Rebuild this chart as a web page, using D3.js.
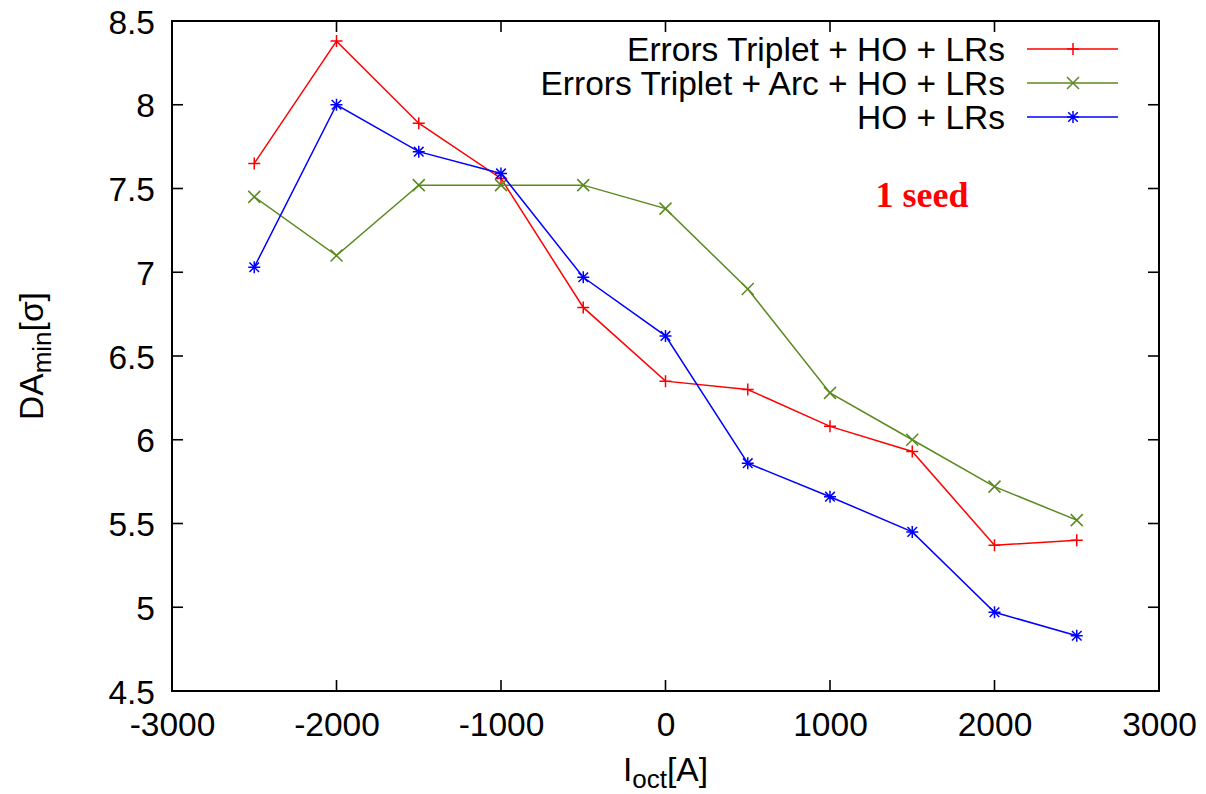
<!DOCTYPE html>
<html>
<head>
<meta charset="utf-8">
<script src="https://cdn.jsdelivr.net/npm/d3@7"></script>
<style>
  html, body { margin: 0; padding: 0; background: #fff; }
  svg { display: block; }
  text { font-family: "Liberation Sans", Arial, sans-serif; fill: #000; }
</style>
</head>
<body>
<svg id="chart" width="1206" height="794"></svg>
<script>
// ---- data ----
const xValues = [-2500, -2000, -1500, -1000, -500, 0, 500, 1000, 1500, 2000, 2500];
const redValues   = [7.65, 8.38, 7.89, 7.56, 6.79, 6.35, 6.30, 6.08, 5.93, 5.37, 5.40];
const greenValues = [7.45, 7.10, 7.52, 7.52, 7.52, 7.38, 6.90, 6.28, 6.00, 5.72, 5.52];
const blueValues  = [7.03, 8.00, 7.72, 7.59, 6.97, 6.62, 5.86, 5.66, 5.45, 4.97, 4.83];
const seriesNames = ["Errors Triplet + HO + LRs", "Errors Triplet + Arc + HO + LRs", "HO + LRs"];
const xTicks = [-3000, -2000, -1000, 0, 1000, 2000, 3000];
const yTicks = [4.5, 5, 5.5, 6, 6.5, 7, 7.5, 8, 8.5];

const series = [
  { name: seriesNames[0], values: redValues,   color: "#ff0000", marker: "plus" },
  { name: seriesNames[1], values: greenValues, color: "#5a8a1e", marker: "cross" },
  { name: seriesNames[2], values: blueValues,  color: "#0000ff", marker: "star" }
];

// ---- layout ----
const L = 172, R = 1159, T = 21, B = 691;
const FS = 33.5;
const svg = d3.select("#chart");
const x = d3.scaleLinear().domain([-3000, 3000]).range([L, R]);
const y = d3.scaleLinear().domain([4.5, 8.5]).range([B, T]);

const tickLen = 11;

function markerPath(type, s) {
  if (type === "plus") return `M${-s},0H${s}M0,${-s}V${s}`;
  if (type === "cross") return `M${-s},${-s}L${s},${s}M${-s},${s}L${s},${-s}`;
  const d = s * 0.8;
  return `M${-s},0H${s}M0,${-s}V${s}M${-d},${-d}L${d},${d}M${-d},${d}L${d},${-d}`;
}

const fmt = d => String(d); // plain hyphen-minus like the original

// ---- axes ----
const axisBottom = d3.axisBottom(x).tickValues(xTicks).tickSize(0).tickPadding(21).tickFormat(fmt);
const axisLeft = d3.axisLeft(y).tickValues(yTicks).tickSize(0).tickPadding(17).tickFormat(fmt);

const gx = svg.append("g").attr("transform", `translate(0,${B})`).call(axisBottom);
const gy = svg.append("g").attr("transform", `translate(${L},0)`).call(axisLeft);
[gx, gy].forEach(g => {
  g.select(".domain").remove();
  g.selectAll("text").style("font-size", FS + "px").style("font-family", '"Liberation Sans", Arial, sans-serif').attr("fill", "#000");
});
gx.selectAll("text").attr("dy", "0.71em");
gy.selectAll("text").attr("dy", "0.36em");

const tickG = svg.append("g").attr("stroke", "#000").attr("stroke-width", 1.6);
xTicks.slice(1, -1).forEach(v => {
  tickG.append("line").attr("x1", x(v)).attr("x2", x(v)).attr("y1", B).attr("y2", B - tickLen);
  tickG.append("line").attr("x1", x(v)).attr("x2", x(v)).attr("y1", T).attr("y2", T + tickLen);
});
yTicks.slice(1, -1).forEach(v => {
  tickG.append("line").attr("x1", L).attr("x2", L + tickLen).attr("y1", y(v)).attr("y2", y(v));
  tickG.append("line").attr("x1", R).attr("x2", R - tickLen).attr("y1", y(v)).attr("y2", y(v));
});

svg.append("rect").attr("x", L).attr("y", T).attr("width", R - L).attr("height", B - T)
  .attr("fill", "none").attr("stroke", "#000").attr("stroke-width", 2);

// ---- series ----
const line = d3.line().x(d => x(d[0])).y(d => y(d[1]));
series.forEach(s => {
  const pts = xValues.map((xv, i) => [xv, s.values[i]]);
  svg.append("path").datum(pts).attr("d", line)
    .attr("fill", "none").attr("stroke", s.color).attr("stroke-width", 1.5);
  svg.append("g").selectAll("path").data(pts).join("path")
    .attr("transform", d => `translate(${x(d[0])},${y(d[1])})`)
    .attr("d", markerPath(s.marker, 6))
    .attr("fill", "none").attr("stroke", s.color).attr("stroke-width", 1.5);
});

// ---- legend ----
const legRows = [49, 83, 117];
series.forEach((s, i) => {
  const ly = legRows[i];
  svg.append("text").attr("x", 1005).attr("y", ly).attr("dy", "0.36em")
    .attr("text-anchor", "end").style("font-size", FS + "px").text(s.name);
  svg.append("line").attr("x1", 1027).attr("x2", 1118).attr("y1", ly).attr("y2", ly)
    .attr("stroke", s.color).attr("stroke-width", 1.5);
  svg.append("path").attr("transform", `translate(1073,${ly})`)
    .attr("d", markerPath(s.marker, 6)).attr("fill", "none")
    .attr("stroke", s.color).attr("stroke-width", 1.5);
});

// ---- labels ----
const xl = svg.append("text").attr("x", (L + R) / 2).attr("y", 781).attr("text-anchor", "middle").style("font-size", FS + "px");
xl.append("tspan").text("I");
xl.append("tspan").attr("dy", 7).style("font-size", "26px").text("oct");
xl.append("tspan").attr("dy", -7).text("[A]");

const yl = svg.append("text").attr("transform", `translate(43,${(T + B) / 2}) rotate(-90)`)
  .attr("text-anchor", "middle").style("font-size", FS + "px");
yl.append("tspan").text("DA");
yl.append("tspan").attr("dy", 8).style("font-size", "26px").text("min");
yl.append("tspan").attr("dy", -8).text("[σ]");

svg.append("text").attr("x", 922).attr("y", 207).attr("text-anchor", "middle")
  .style("font-family", '"Liberation Serif", "DejaVu Serif", serif').style("font-weight", "bold")
  .style("font-size", "36px").style("fill", "#ff0000").text("1 seed");
</script>
</body>
</html>
